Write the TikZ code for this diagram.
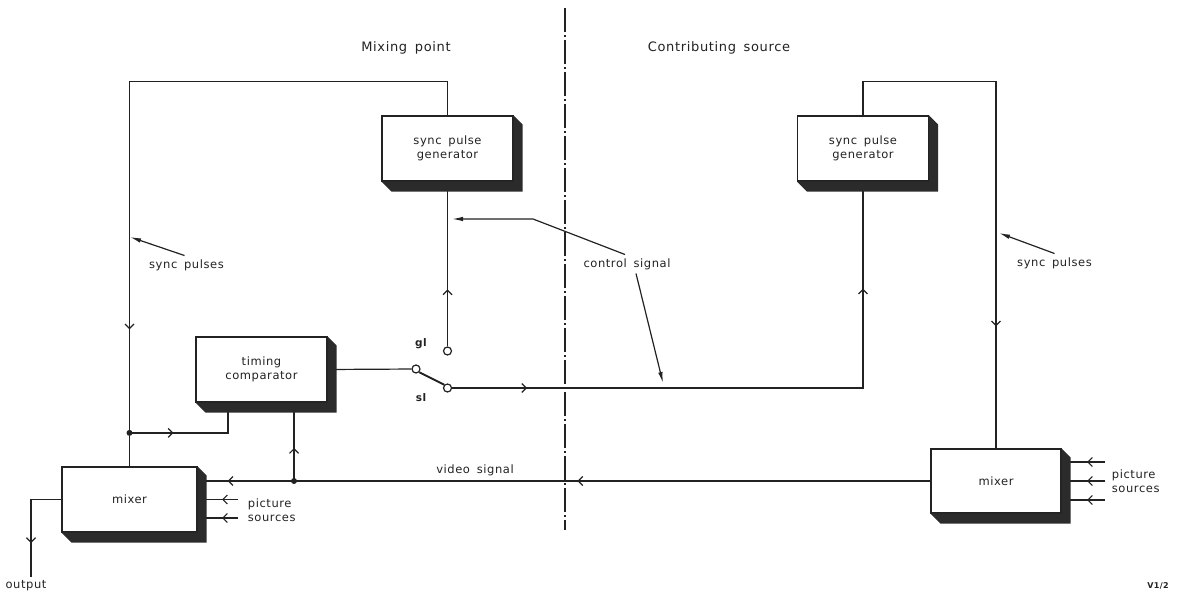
\documentclass[tikz,border=0pt]{standalone}
\usepackage{fontspec}
\setmainfont{DejaVu Sans}[LetterSpace=5,WordSpace=1.6]
\usepackage{tikz}
\usetikzlibrary{arrows.meta,decorations.markings,calc}
\definecolor{inkline}{HTML}{222222}
\definecolor{shadeblock}{HTML}{2B2B2B}

\begin{document}
\begin{tikzpicture}[
    x=1pt, y=-1pt,
    font=\fontsize{11.5}{14}\selectfont,
    color=inkline,
    line width=1.2pt,
    unit/.style={
      draw, fill=white, align=center, inner sep=0pt,
      minimum width=131pt, minimum height=65pt
    },
    term/.style={circle, draw, fill=white, inner sep=0pt, minimum size=8pt},
    flowtip/.style={
      postaction={decorate,
        decoration={markings,
          mark=at position #1 with {\arrow{Straight Barb[length=4.5pt,width=9pt]}}}}
    },
    leader/.style={-{Latex[length=11pt,width=4.5pt]}},
    divider/.style={dash pattern=on 24pt off 3pt on 2pt off 3pt}
  ]
  \useasboundingbox (0,0) rectangle (1179,596);

  % blocks
  \node[unit] (spgL) at (447.5,148.5) {sync pulse\\generator};
  \node[unit] (spgR) at (863,148.5) {sync pulse\\generator};
  \node[unit] (tc) at (261.5,369.5) {timing\\comparator};
  \node[unit, minimum width=135pt] (mixL) at (129.5,499.5) {mixer};
  \node[unit, minimum width=130pt, minimum height=64pt] (mixR) at (996,481) {mixer};

  % changeover switch
  \node[term] (gl) at (447.5,351) {};
  \node[term] (sw) at (416,369) {};
  \node[term] (sl) at (447.5,388) {};
  \node[font=\fontsize{10.5}{12}\bfseries\selectfont] (glLabel) at (421,344) {gl};
  \node[font=\fontsize{10.5}{12}\bfseries\selectfont] (slLabel) at (421,398) {sl};

  % sync pulse loops
  \draw[flowtip=-137pt] (spgL.north) -- ++(0,-34) -| (mixL.north);
  \draw[flowtip=-122pt] (spgR.north) -- ++(0,-34) -| (mixR.north);

  \coordinate (jA) at ($(mixL.north)+(0,-33.5)$);
  \coordinate (tcA) at ([xshift=-33.5pt]tc.south);
  \coordinate (tcB) at ([xshift=32.5pt]tc.south);
  \draw[flowtip=44pt] (jA) -| (tcA);
  \fill (jA) circle (3);

  % video signal
  \coordinate (vin) at ([yshift=18.5pt]mixL.east);
  \coordinate (jB) at (tcB |- mixR.west);
  \draw[flowtip=353pt, flowtip=-30pt] (mixR.west) -- (vin);
  \draw[flowtip=33pt] (jB) -- (tcB);
  \fill (jB) circle (3);

  % switch and control path
  \draw (tc.east) -- (sw);
  \draw[line width=2pt] (sw.south east) -- (sl.north west);
  \draw[flowtip=57pt] (gl) -- (spgL.south);
  \draw[flowtip=75pt, flowtip=-107pt] (sl) -| (spgR.south);

  % picture sources and output
  \foreach \dy [count=\i] in {0,18.5} {
    \coordinate (psL\i) at (238,499.5+\dy);
    \draw[flowtip=16pt] (psL\i) -- (psL\i -| mixL.east);
  }
  \foreach \dy [count=\i] in {-19,0,19} {
    \coordinate (psR\i) at (1105,481+\dy);
    \draw[flowtip=18pt] (psR\i) -- (psR\i -| mixR.east);
  }
  \coordinate (outEnd) at (31,577);
  \draw[flowtip=-34pt] (mixL.west) -| (outEnd);

  % block shadows
  \foreach \b in {spgL,spgR,tc,mixL,mixR}
    \fill[shadeblock] (\b.north east) -- ([shift={(9,9)}]\b.north east)
      -- ([shift={(9,10)}]\b.south east) -- ([shift={(10,10)}]\b.south west)
      -- (\b.south west) -- (\b.south east) -- cycle;

  % dividing line
  \coordinate (divTop) at (565,8);
  \coordinate (divBot) at (565,530);
  \draw[divider] (divTop) -- (divBot);

  % labels
  \node[font=\fontsize{13}{15}\selectfont] (mixPt) at (406,48) {Mixing point};
  \node[font=\fontsize{13}{15}\selectfont] (contSrc) at (719,48) {Contributing source};
  \node (spL) at (186.5,265) {sync pulses};
  \node (spR) at (1054.5,263) {sync pulses};
  \node (ctl) at (627,264) {control signal};
  \node (vid) at (475,470) {video signal};
  \node[align=left, anchor=west] (psLtxt) at (244,510) {picture\\sources};
  \node[align=left, anchor=west] (psRtxt) at (1108,481) {picture\\sources};
  \node (outTxt) at (26,586) {output};
  \node[font=\fontsize{8}{9}\bfseries\selectfont] (figRef) at (1158,586) {V1/2};

  % leaders
  \coordinate (spLtip) at (130,237);
  \coordinate (spRtip) at (999,233);
  \coordinate (ctlBend) at (533,219);
  \coordinate (ctlTipA) at (452,219);
  \coordinate (ctlTipB) at (663,383);
  \draw[leader] ([xshift=-2pt]spL.north) -- (spLtip);
  \draw[leader] (spR.north) -- (spRtip);
  \draw[leader] ([xshift=-2pt]ctl.north) -- (ctlBend) -- (ctlTipA);
  \draw[leader] ([xshift=9pt]ctl.south) -- (ctlTipB);
\end{tikzpicture}
\end{document}
